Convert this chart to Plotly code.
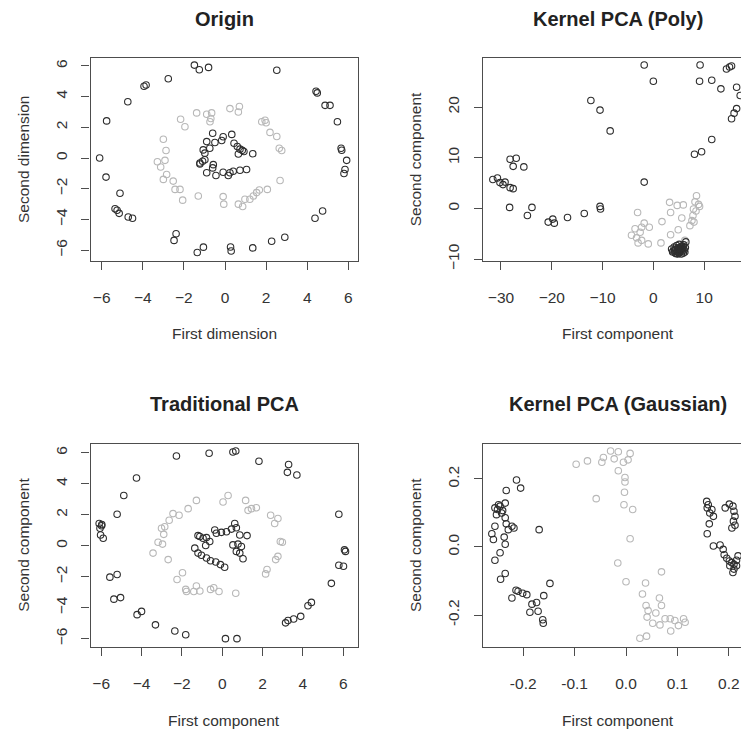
import plotly.graph_objects as go

# ---------------- data ----------------
# Panel 1: Origin
origin_black_x = [-6.1, -5.76, -5.79, -5.11, -5.35, -5.25, -5.15, -4.71, -4.5, -4.73, -3.94, -3.84, -2.76, -2.38, -2.48,
                  -1.49, -1.25, -0.8, -1.35, -1.05, 2.52, 4.43, 4.49, 4.87, 5.11, 5.47, 5.65, 5.68, 5.92, 5.84, 5.79,
                  4.75, 4.38, 2.91, 2.27, 1.35, 0.27, 0.30,
                  -0.60, -0.09, 0.33, -0.89, -0.49, -0.16, -1.06, -0.74, -0.98, 0.44, 0.60, 0.73, 0.84, 0.92, 0.65,
                  1.35, -1.22, -1.09, -0.98, -1.22, -0.57, -0.60, -0.89, -0.44, -0.09, 0.24, 0.40, 0.73, 1.05, 0.16]
origin_black_y = [0.0, 2.42, -1.24, -2.29, -3.3, -3.4, -3.6, -3.84, -3.92, 3.67, 4.67, 4.76, 5.16, -4.93, -5.36,
                  6.05, 5.75, 5.9, -6.15, -5.8, 5.72, 4.35, 4.24, 3.43, 3.43, 2.36, 0.64, 0.51, -0.15, -0.75, -1.01,
                  -3.45, -3.92, -5.16, -5.42, -5.85, -5.79, -6.05,
                  1.61, 1.39, 1.54, 1.07, 1.01, 1.14, 0.53, 0.64, 0.32, 0.96, 0.75, 0.58, 0.50, 0.43, 0.26,
                  0.28, -0.32, -0.21, -0.11, -0.39, -0.43, -0.64, -0.96, -1.14, -0.92, -0.96, -0.86, -0.79, -0.75, -1.14]
origin_gray_x = [-3.0, -2.87, -3.29, -3.13, -2.92, -2.84, -3.0, -2.52, -2.43, -2.19, -2.06, -2.16, -1.95, -1.38, -1.30,
                 -0.89, -0.65, -0.69, -0.73, 0.24, 0.70, 0.65, 1.79, 1.95, 2.0, 2.19, 2.52, 2.64, 2.76, 2.68, 2.06,
                 1.67, 1.54, 1.38, 1.21, 0.97, 0.86, 0.65, -0.09, -0.06]
origin_gray_y = [1.22, 0.49, -0.24, -0.58, -0.15, -1.07, -1.39, -1.5, -2.04, -2.04, -2.74, 2.53, 2.04, 2.94, -2.47,
                 2.85, 2.94, 2.57, 2.36, 3.22, 3.36, 3.0, 2.36, 2.46, 2.30, 1.67, 1.40, 0.64, 0.49, -1.46, -2.04,
                 -2.08, -2.25, -2.47, -2.68, -2.68, -3.15, -3.0, -2.51, -3.0]

# Panel 2: Kernel PCA (Poly)
poly_black_x = [-31.6, -30.7, -30.2, -29.6, -29.2, -28.2, -27.6, -28.2, -27.0, -27.6, -25.5, -28.3, -24.8, -23.9,
                -20.7, -19.8, -19.5, -16.9, -13.6, -10.5, -10.4, -12.3, -10.5, -8.5, -1.8, 0.0, -1.8, 9.2, 9.1,
                11.5, 13.3, 14.4, 15.0, 15.4, 16.4, 17.1, 16.4, 15.9, 15.4, 11.5, 9.5, 8.1,
                3.6, 3.9, 4.1, 4.3, 4.4, 4.6, 4.7, 4.8, 4.9, 5.0, 5.1, 5.2, 5.3, 5.4, 5.5, 5.6, 5.7, 5.8, 5.9,
                6.0, 6.1, 6.3, 6.4, 4.2, 4.5, 5.0, 5.3, 4.8, 5.6, 5.2, 4.4, 3.8, 6.2, 5.9, 4.9, 5.5]
poly_black_y = [5.7, 6.0, 5.1, 4.7, 5.2, 4.1, 3.9, 9.7, 9.9, 8.3, 8.2, 0.2, -1.4, 0.2,
                -2.7, -2.1, -2.9, -1.8, -1.0, 0.4, -0.1, 21.3, 19.4, 15.3, 28.3, 25.1, 5.2, 28.3, 25.1,
                25.3, 23.6, 27.5, 27.9, 28.1, 23.9, 22.3, 19.7, 18.8, 17.7, 13.6, 11.2, 10.7,
                -8.0, -8.4, -7.6, -8.8, -8.1, -7.3, -8.5, -9.0, -7.8, -8.3, -7.1, -8.7, -7.6, -8.1, -9.0, -7.4,
                -8.4, -7.9, -8.8, -7.2, -8.2, -7.7, -6.6, -8.3, -8.9, -8.8, -8.4, -7.9, -8.0, -7.9, -7.8, -8.6,
                -8.6, -7.5, -8.6, -7.7]
poly_gray_x = [8.5, 8.9, 9.1, 8.2, 3.2, 4.7, 5.9, 7.9, 7.8, 8.4, 7.6, 7.2, 8.0, -3.1, 3.4, 5.6, 1.7, -1.8, -0.8,
               -2.3, -3.6, -2.6, -4.3, -3.3, -2.3, -1.0, -3.0, 3.4, 4.9, 1.5, 6.2]
poly_gray_y = [2.5, 0.8, 0.4, 1.3, 1.2, 0.6, 0.7, -0.1, -1.4, -0.5, -2.4, -3.4, -2.7, -0.8, -0.8, -1.9, -2.6, -2.9,
               -3.7, -3.7, -4.0, -4.7, -5.3, -5.8, -6.3, -7.0, -6.8, -5.2, -4.2, -6.8, -6.3]

# Panel 3: Traditional PCA
pca_black_x = [-2.27, -4.25, -4.88, -5.21, -6.1, -5.98, -6.06, -5.97, -6.03, -5.9, -5.57, -5.21, -5.37, -5.04,
               -4.22, -4.0, -3.31, -2.35, -1.81, -0.65, 0.53, 0.67, 1.82, 3.29, 3.23, 3.70, 5.78, 6.06, 6.11, 5.78,
               6.01, 5.41, 4.42, 4.25, 3.89, 3.54, 3.26, 3.14, 0.16, 0.73,
               -1.11, -0.95, -0.78, -1.2, -0.37, -0.29, -0.04, 0.21, 0.46, 0.62, 0.70, 0.87, 1.23, -0.62, -0.82,
               0.53, 0.78, 0.95, 0.70, 0.87, 1.03, -1.36, -1.2, -1.03, -0.78, -0.58, -0.32, -0.09, 0.12]
pca_black_y = [5.79, 4.37, 3.24, 2.03, 1.43, 1.29, 1.12, 1.37, 0.69, 0.48, -2.03, -1.86, -3.45, -3.35,
               -4.45, -4.24, -5.11, -5.51, -5.75, 5.96, 6.04, 6.11, 5.45, 5.24, 4.73, 4.56, 2.03, -0.27, -0.37, -1.26,
               -1.33, -2.43, -3.66, -3.88, -4.56, -4.73, -4.83, -4.98, -6.0, -6.0,
               0.59, 0.48, 0.52, 0.65, 1.01, 0.80, 0.86, 0.90, 1.07, 1.43, 1.16, 0.69, 0.65, 0.27, 0.01,
               0.05, 0.10, -0.05, -0.37, -0.48, -0.84, -0.16, -0.48, -0.62, -0.80, -0.97, -1.05, -1.22, -1.39]
pca_gray_x = [-1.28, -1.69, -2.14, -2.44, -2.63, -2.85, -3.01, -2.9, -3.18, -2.96, -3.43, -2.68, -1.97, -2.24,
              -1.81, -1.77, -1.41, -1.28, 0.04, 0.29, 1.16, 1.28, 1.45, 1.69, 2.40, 2.76, 2.60, 2.88, 2.98, 2.76,
              2.65, 2.22, 2.15, -1.11, -0.58, -0.42, -0.16, 0.67]
pca_gray_y = [2.92, 2.39, 1.96, 2.07, 1.64, 1.22, 1.12, 0.73, 0.22, 0.10, -0.48, -0.90, -1.75, -2.18,
              -2.82, -2.96, -2.96, -2.6, 2.82, 3.24, 2.92, 2.28, 2.39, 2.45, 1.96, 1.75, 1.43, 0.27, 0.22, -0.69,
              -0.90, -1.54, -1.82, -2.92, -2.82, -2.71, -2.96, -3.07]

# Panel 4: Kernel PCA (Gaussian)
gauss_black_x = [-0.213, -0.205, -0.233, -0.235, -0.248, -0.255, -0.250, -0.245, -0.240, -0.242, -0.252, -0.235,
                 -0.233, -0.222, -0.218, -0.229, -0.255, -0.261, -0.258, -0.237, -0.235, -0.245, -0.255, -0.169,
                 -0.235, -0.244, -0.214, -0.210, -0.201, -0.193, -0.222, -0.148, -0.160, -0.183, -0.174, -0.187,
                 -0.171, -0.162, -0.161,
                 0.157, 0.160, 0.158, 0.163, 0.170, 0.167, 0.162, 0.158, 0.193, 0.201, 0.208, 0.210, 0.212, 0.209,
                 0.212, 0.206, 0.170, 0.183, 0.189, 0.191, 0.196, 0.201, 0.206, 0.210, 0.215, 0.218, 0.210, 0.208,
                 0.202, 0.215]
gauss_black_y = [0.197, 0.173, 0.166, 0.129, 0.124, 0.115, 0.110, 0.120, 0.107, 0.100, 0.095, 0.086,
                 0.068, 0.061, 0.056, 0.051, 0.061, 0.039, 0.022, 0.029, 0.008, -0.017, -0.039, 0.051,
                 -0.078, -0.095, -0.127, -0.130, -0.136, -0.140, -0.150, -0.107, -0.143, -0.168, -0.163, -0.192,
                 -0.189, -0.214, -0.224,
                 0.134, 0.124, 0.115, 0.100, 0.090, 0.110, 0.068, 0.039, 0.115, 0.126, 0.120, 0.105, 0.090, 0.076,
                 0.064, 0.056, 0.003, 0.006, -0.007, -0.023, -0.033, -0.041, -0.046, -0.051, -0.039, -0.026, -0.065,
                 -0.075, -0.055, -0.055]
gauss_gray_x = [-0.097, -0.075, -0.047, -0.044, -0.030, -0.015, -0.023, -0.005, 0.004, 0.008, -0.015, -0.002,
                -0.002, -0.003, -0.004, 0.013, -0.058, 0.008, -0.016, 0.069, 0.0, 0.038, 0.032, 0.065, 0.069, 0.039,
                0.043, 0.058, 0.041, 0.052, 0.066, 0.076, 0.086, 0.095, 0.102, 0.112, 0.115, 0.087, 0.027, 0.040]
gauss_gray_y = [0.243, 0.253, 0.249, 0.263, 0.282, 0.280, 0.259, 0.249, 0.256, 0.275, 0.224, 0.204,
                0.191, 0.161, 0.124, 0.110, 0.142, 0.024, -0.047, -0.073, -0.102, -0.106, -0.138, -0.150, -0.172,
                -0.172, -0.187, -0.194, -0.206, -0.224, -0.229, -0.211, -0.211, -0.216, -0.231, -0.211, -0.221,
                -0.247, -0.268, -0.262]

titles = ["Origin", "Kernel PCA (Poly)", "Traditional PCA", "Kernel PCA (Gaussian)"]
xlabels = ["First dimension", "First component", "First component", "First component"]
ylabels = ["Second dimension", "Second component", "Second component", "Second component"]

# ---------------- figure ----------------
W, H = 741, 740
FONT = "Liberation Sans, Arial, Helvetica, sans-serif"
BLACK = "#2e2e2e"
GRAY = "#b8b8b8"
LINE = "#4d4d4d"

panels = [
    (origin_black_x, origin_black_y, origin_gray_x, origin_gray_y),
    (poly_black_x, poly_black_y, poly_gray_x, poly_gray_y),
    (pca_black_x, pca_black_y, pca_gray_x, pca_gray_y),
    (gauss_black_x, gauss_black_y, gauss_gray_x, gauss_gray_y),
]

# box pixel positions (left, right, top, bottom)
boxes = [(90.5, 358, 59, 264), (482.7, 741, 59, 264), (90.5, 358, 449, 655), (482.7, 741, 449, 655)]
xranges = [[-6.545, 6.472], [-33.6, 17.26], [-6.53, 6.73], [-0.2788, 0.2237]]
yranges = [[-6.688, 6.495], [-10.33, 29.63], [-6.54, 6.59], [-0.294, 0.304]]
xticks = [[-6, -4, -2, 0, 2, 4, 6], [-30, -20, -10, 0, 10], [-6, -4, -2, 0, 2, 4, 6],
          [-0.2, -0.1, 0.0, 0.1, 0.2]]
xticktext = [None, None, None, ["-0.2", "-0.1", "0.0", "0.1", "0.2"]]
yticks = [[-6, -4, -2, 0, 2, 4, 6], [-10, 0, 10, 20], [-6, -4, -2, 0, 2, 4, 6], [-0.2, 0.0, 0.2]]
yticktext = [None, None, None, ["-0.2", "0.0", "0.2"]]
title_cx = [224, 618, 224, 618]

fig = go.Figure()
annotations = []
for i, (bx, by, gx, gy) in enumerate(panels):
    sfx = "" if i == 0 else str(i + 1)
    for xs, ys, col in ((gx, gy, GRAY), (bx, by, BLACK)):
        fig.add_trace(go.Scatter(
            x=xs, y=ys, mode="markers", xaxis="x" + sfx, yaxis="y" + sfx,
            marker=dict(symbol="circle-open", size=6.5, color=col, line=dict(width=1.1, color=col)),
            showlegend=False, hoverinfo="skip", cliponaxis=True))
    l, r, t, b = boxes[i]
    right_panel = i in (1, 3)
    xa = dict(domain=[l / W, r / W], range=xranges[i], anchor="y" + sfx,
              showgrid=False, zeroline=False, showline=True, linecolor=LINE, linewidth=1.4,
              mirror=True, ticks="outside", ticklen=8, tickwidth=1.3, tickcolor=LINE,
              tickvals=xticks[i], ticklabelstandoff=14,
              tickfont=dict(family=FONT, size=15.5, color="#333333"))
    if xticktext[i]:
        xa["ticktext"] = xticktext[i]
    ya = dict(domain=[1 - b / H, 1 - t / H], range=yranges[i], anchor="x" + sfx,
              showgrid=False, zeroline=False, showline=True, linecolor=LINE, linewidth=1.4,
              mirror=(not right_panel), ticks="outside", ticklen=8, tickwidth=1.3, tickcolor=LINE,
              tickvals=yticks[i], tickangle=-90, ticklabelstandoff=8,
              tickfont=dict(family=FONT, size=15.5, color="#333333"))
    if yticktext[i]:
        ya["ticktext"] = yticktext[i]
    fig.layout["xaxis" + sfx] = xa
    fig.layout["yaxis" + sfx] = ya

    annotations.append(dict(text="<b>" + titles[i] + "</b>", x=title_cx[i] / W, y=1 - (t - 40) / H,
                            xref="paper", yref="paper", showarrow=False, xanchor="center", yanchor="middle",
                            font=dict(family=FONT, size=20, color="#222222")))
    annotations.append(dict(text=xlabels[i], x=title_cx[i] / W, y=1 - (b + 74) / H,
                            xref="paper", yref="paper", showarrow=False, xanchor="center", yanchor="middle",
                            font=dict(family=FONT, size=15.5, color="#333333")))
    annotations.append(dict(text=ylabels[i], x=(l - 67) / W, y=1 - (t + b) / 2 / H, textangle=-90,
                            xref="paper", yref="paper", showarrow=False, xanchor="center", yanchor="middle",
                            font=dict(family=FONT, size=15.5, color="#333333")))

fig.update_layout(width=W, height=H, margin=dict(l=0, r=0, t=0, b=0),
                  paper_bgcolor="white", plot_bgcolor="white", annotations=annotations)
fig.write_html("out.html")
